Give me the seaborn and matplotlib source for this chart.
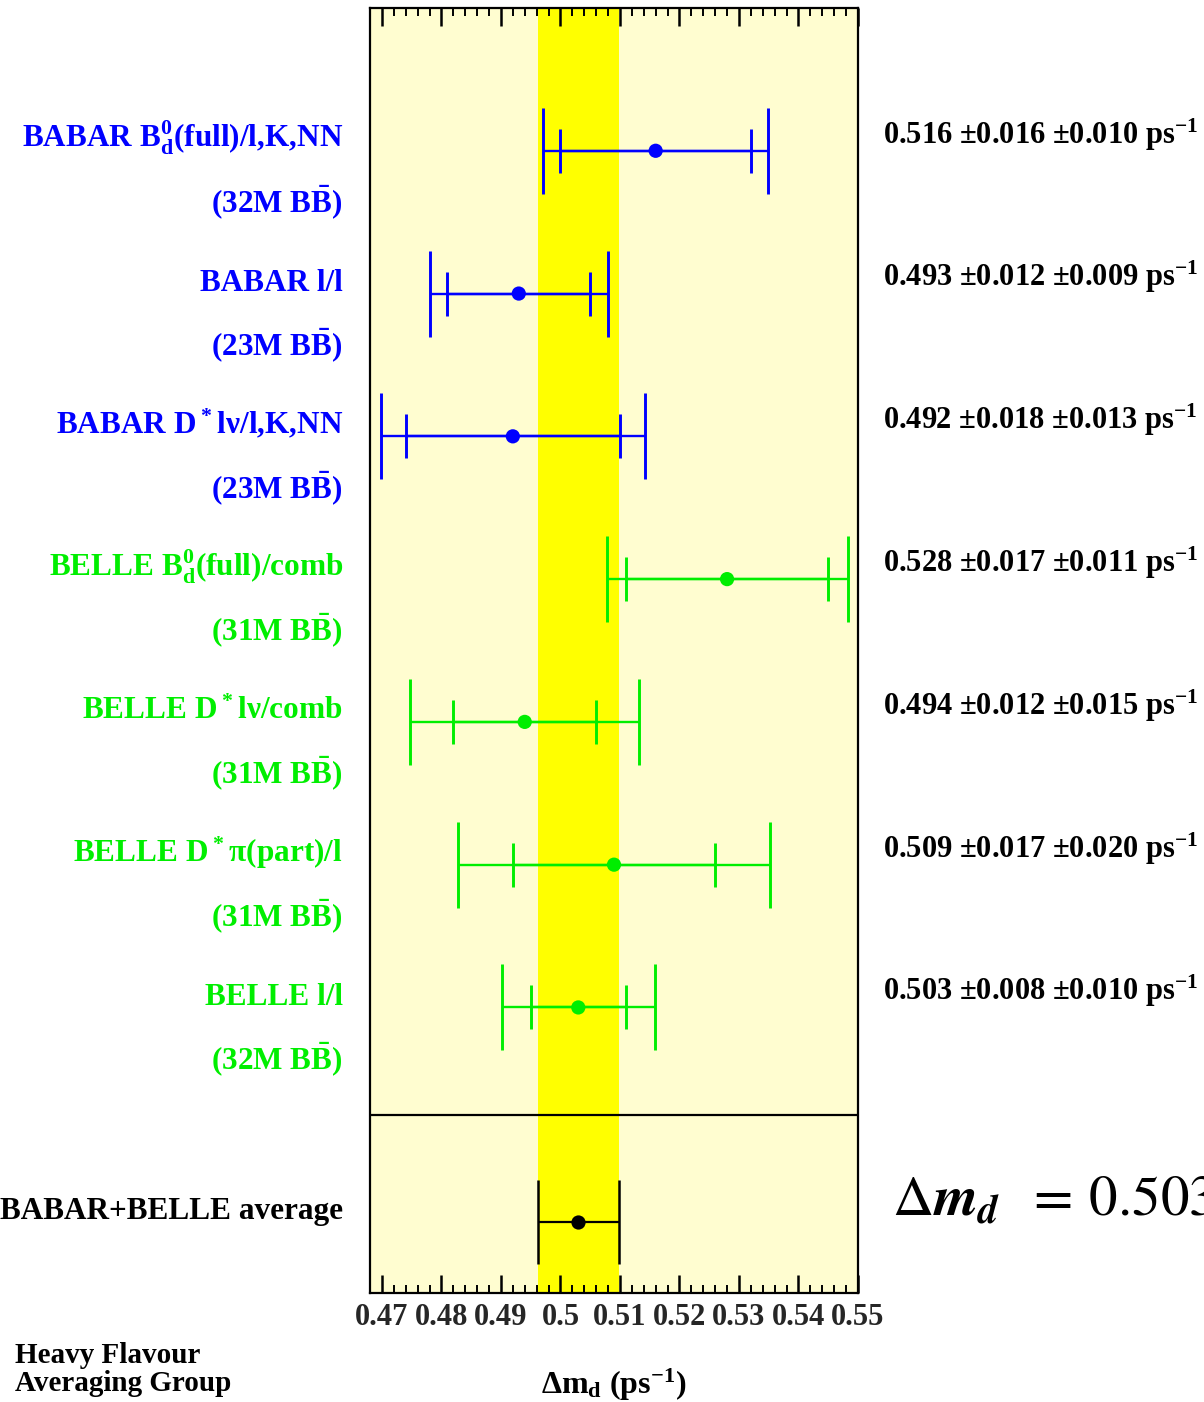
import numpy as np
import pandas as pd
import matplotlib
matplotlib.use("Agg")
import matplotlib.pyplot as plt
import matplotlib.transforms as mtransforms
from matplotlib.ticker import FixedLocator, FixedFormatter, MultipleLocator
import seaborn as sns

# ---------------- data ----------------
experiments = ["BABAR", "BABAR", "BABAR", "BELLE", "BELLE", "BELLE", "BELLE"]
labels = [r"BABAR B$_d^0$(full)/l,K,NN",
          "BABAR l/l",
          r"BABAR D$^*$lν/l,K,NN",
          r"BELLE B$_d^0$(full)/comb",
          r"BELLE D$^*$lν/comb",
          r"BELLE D$^*$π(part)/l",
          "BELLE l/l"]
samples = [r"(32M B$\bar{B}$)", r"(23M B$\bar{B}$)", r"(23M B$\bar{B}$)",
           r"(31M B$\bar{B}$)", r"(31M B$\bar{B}$)", r"(31M B$\bar{B}$)",
           r"(32M B$\bar{B}$)"]
values = [0.516, 0.493, 0.492, 0.528, 0.494, 0.509, 0.503]
stat_err = [0.016, 0.012, 0.018, 0.017, 0.012, 0.017, 0.008]
syst_err = [0.010, 0.009, 0.013, 0.011, 0.015, 0.020, 0.010]

avg_label = "BABAR+BELLE average"
avg_value = 0.503
avg_err = 0.0068
avg_text = r"$\Delta\mathit{m}_{\mathit{d}}\;\;=\,0.503 \pm 0.007\ \mathrm{ps}^{-1}$"

tick_values = [0.47, 0.48, 0.49, 0.50, 0.51, 0.52, 0.53, 0.54, 0.55]
tick_labels = ["0.47", "0.48", "0.49", "0.5", "0.51", "0.52", "0.53", "0.54", "0.55"]
xlabel = r"Δm$_d$ (ps$^{-1}$)"
group_lines = ["Heavy Flavour", "Averaging Group"]

colors = {"BABAR": "#0000ff", "BELLE": "#00ee00"}

# ---------------- style ----------------
sns.set_style("white")
plt.rcParams["font.family"] = ["Liberation Serif", "DejaVu Serif"]
plt.rcParams["font.weight"] = "bold"
plt.rcParams["mathtext.default"] = "regular"

fig = plt.figure(figsize=(12.04, 14.02), dpi=100)
fig.patch.set_facecolor("white")
ax = fig.add_axes([370 / 1204, 1 - 1293 / 1402, (858 - 370) / 1204, (1293 - 8) / 1402])
ax.set_facecolor("#fffdd0")

rows = np.arange(1, len(values) + 1)
avg_row = 8.5

df = pd.DataFrame({"experiment": experiments, "value": values, "row": rows,
                   "stat": stat_err, "syst": syst_err})
df["total"] = np.sqrt(df["stat"] ** 2 + df["syst"] ** 2)

# average band
ax.axvspan(avg_value - avg_err, avg_value + avg_err, color="#ffff00", zorder=0, lw=0)
# separator
ax.axhline(7.75, color="black", lw=1.6, zorder=2)

# error bars
for _, r in df.iterrows():
    c = colors[r["experiment"]]
    ax.errorbar(r["value"], r["row"], xerr=r["total"], fmt="none", ecolor=c,
                elinewidth=1.7, capsize=31, capthick=2.1, zorder=3)
    ax.errorbar(r["value"], r["row"], xerr=r["stat"], fmt="none", ecolor=c,
                elinewidth=1.7, capsize=16, capthick=2.1, zorder=3)

ax.errorbar(avg_value, avg_row, xerr=avg_err, fmt="none", ecolor="black",
            elinewidth=1.6, capsize=30.5, capthick=1.8, zorder=3)

sns.scatterplot(data=df, x="value", y="row", hue="experiment", palette=colors,
                s=105, linewidth=0, legend=False, ax=ax, zorder=5)
ax.scatter([avg_value], [avg_row], s=105, color="black", linewidth=0, zorder=5)

# axes
ax.set_xlim(0.468, 0.55)
ax.set_ylim(9, 0)
ax.set_yticks([])
ax.set_xlabel("")
ax.set_ylabel("")
ax.xaxis.set_major_locator(FixedLocator(tick_values))
ax.xaxis.set_major_formatter(FixedFormatter(tick_labels))
ax.xaxis.set_minor_locator(MultipleLocator(0.002))
ax.tick_params(axis="x", which="major", direction="in", top=True, bottom=True,
               length=13, width=1.8, labelsize=22, pad=7, color="black")
ax.tick_params(axis="x", which="minor", direction="in", top=True, bottom=True,
               length=6, width=1.4, color="black")
for lab in ax.get_xticklabels():
    lab.set_fontweight("bold")
for sp in ax.spines.values():
    sp.set_visible(True)
    sp.set_color("black")
    sp.set_linewidth(1.6)

# texts
trans = mtransforms.blended_transform_factory(fig.transFigure, ax.transData)
for i, r in df.iterrows():
    c = colors[r["experiment"]]
    fig.text(343 / 1204, r["row"] - 0.02, labels[i], transform=trans, ha="right",
             va="baseline", color=c, fontsize=22.5, fontweight="bold")
    fig.text(343 / 1204, r["row"] + 0.43, samples[i], transform=trans, ha="right",
             va="baseline", color=c, fontsize=22.5, fontweight="bold")
    vt = f"{values[i]:.3f} ±{stat_err[i]:.3f} ±{syst_err[i]:.3f} ps$^{{-1}}$"
    fig.text(883 / 1204, r["row"] - 0.05, vt, transform=trans, ha="left",
             va="baseline", color="black", fontsize=22, fontweight="bold")

fig.text(343 / 1204, avg_row - 0.02, avg_label, transform=trans, ha="right",
         va="baseline", color="black", fontsize=22.5, fontweight="bold")
fig.text(892 / 1204, 1 - 1216 / 1402, avg_text, ha="left", va="baseline",
         color="black", fontsize=41, fontweight="normal",
         family="STIXGeneral", math_fontfamily="stix")

fig.text(614 / 1204, 1 - 1394 / 1402, xlabel, ha="center", va="baseline",
         fontsize=23, fontweight="bold", color="black")
fig.text(15 / 1204, 1 - 1363 / 1402, group_lines[0], ha="left", va="baseline",
         fontsize=21, fontweight="bold", color="black")
fig.text(15 / 1204, 1 - 1391 / 1402, group_lines[1], ha="left", va="baseline",
         fontsize=21, fontweight="bold", color="black")

fig.savefig("out.png", dpi=100)
